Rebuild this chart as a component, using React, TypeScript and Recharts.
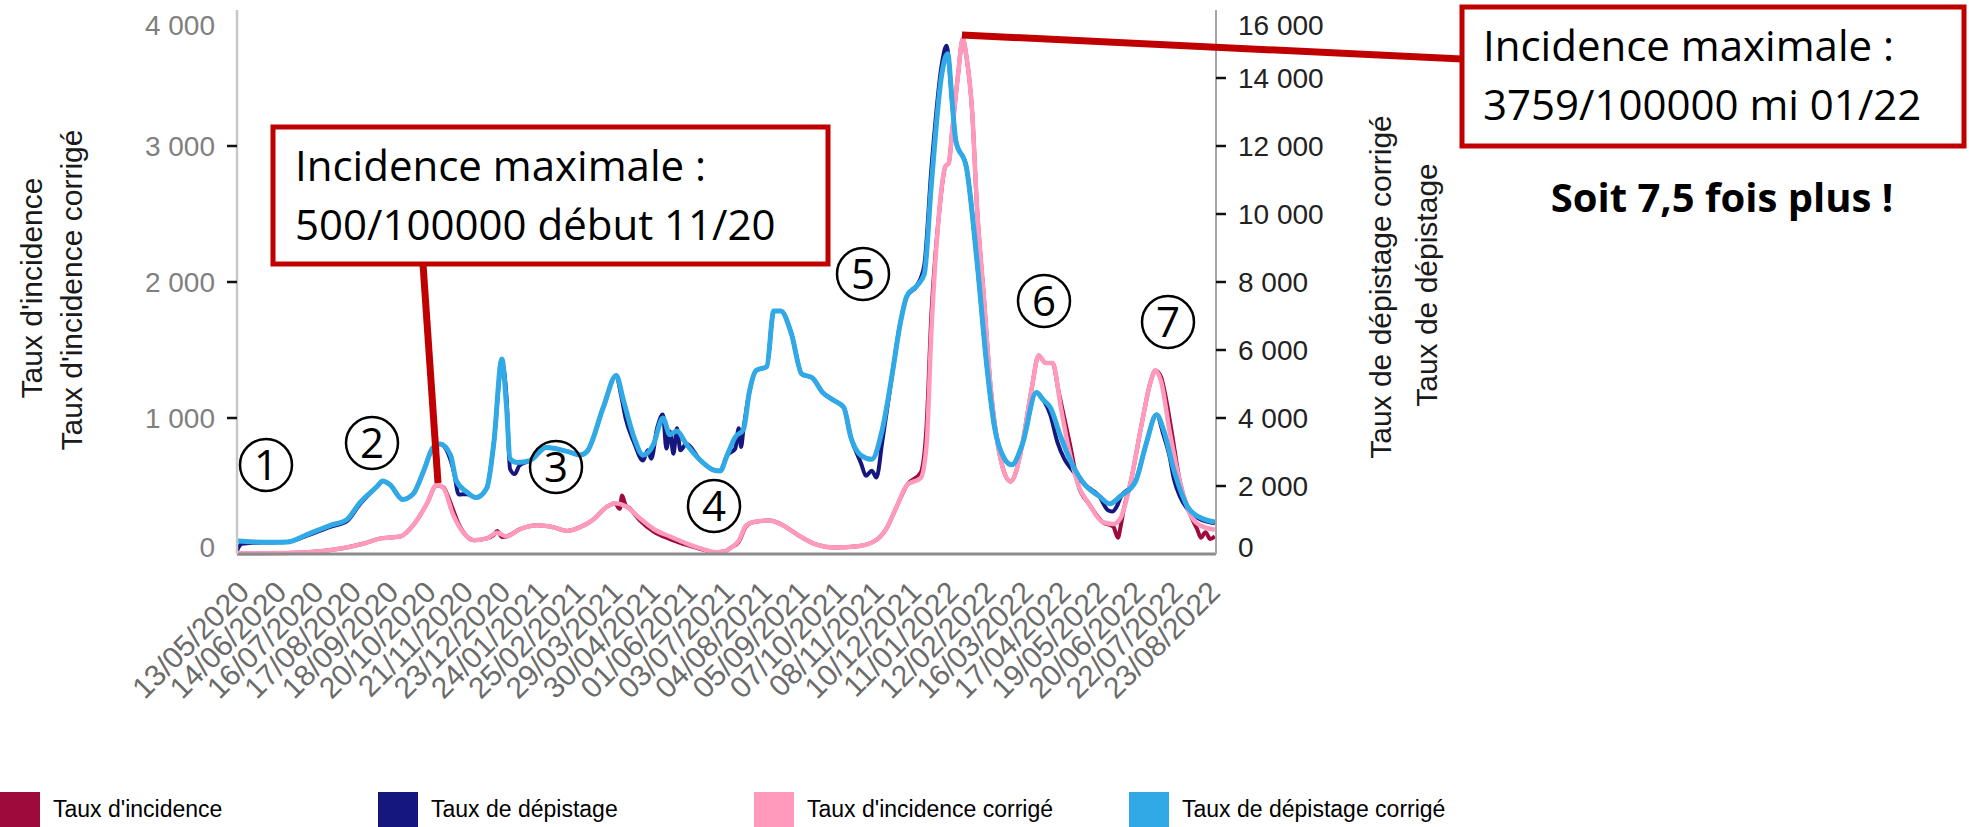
import React from 'react';
import { ComposedChart, Line, XAxis, YAxis } from 'recharts';

// ---------- tick labels ----------
const dateLabels = [
  '13/05/2020', '14/06/2020', '16/07/2020', '17/08/2020', '18/09/2020', '20/10/2020',
  '21/11/2020', '23/12/2020', '24/01/2021', '25/02/2021', '29/03/2021', '30/04/2021',
  '01/06/2021', '03/07/2021', '04/08/2021', '05/09/2021', '07/10/2021', '08/11/2021',
  '10/12/2021', '11/01/2022', '12/02/2022', '16/03/2022', '17/04/2022', '19/05/2022',
  '20/06/2022', '22/07/2022', '23/08/2022',
];
const leftTicks = [0, 1000, 2000, 3000, 4000];
const rightTicks = [0, 2000, 4000, 6000, 8000, 10000, 12000, 14000, 16000];
const xDomain = [0, 839];

// ---------- series (x = days since 13/05/2020) ----------
// Taux de dépistage corrigé (right axis)
const depCorrDays = [0, 14, 30, 43, 60, 80, 94, 105, 120, 125, 131, 142, 151, 160, 168, 174, 183, 188, 197, 205, 214, 220, 227, 231, 234, 240, 251, 265, 283, 294, 300, 314, 325, 331, 340, 348, 357, 365, 371, 377, 385, 397, 408, 414, 420, 427, 434, 439, 445, 454, 460, 466, 475, 484, 493, 502, 511, 520, 526, 535, 544, 553, 562, 568, 574, 583, 589, 595, 604, 609, 613, 616, 625, 634, 643, 649, 658, 664, 673, 685, 691, 697, 706, 715, 727, 739, 748, 757, 770, 779, 788, 794, 803, 815, 824, 838];
const depCorrValues = [380, 353, 345, 353, 571, 844, 1006, 1497, 1985, 2150, 2041, 1606, 1768, 2450, 3129, 3235, 2912, 2150, 1823, 1659, 1932, 3235, 5738, 4323, 2803, 2691, 2747, 3129, 3018, 2912, 3018, 4323, 5250, 4541, 3453, 2912, 3235, 4000, 3509, 3617, 3235, 2760, 2476, 2440, 2900, 3441, 3659, 4747, 5400, 5509, 7144, 7144, 6491, 5294, 5183, 4747, 4529, 4311, 3441, 2894, 2785, 3659, 5400, 6708, 7579, 7906, 8235, 10847, 14117, 14714, 13244, 12155, 11391, 8667, 5400, 3767, 2785, 2623, 3223, 4747, 4529, 4311, 3441, 2691, 2023, 1697, 1479, 1697, 2132, 3223, 4094, 3659, 2459, 1370, 1097, 941];

// Taux de dépistage (right axis)
const depDays = [0, 4, 14, 30, 43, 60, 80, 94, 105, 120, 125, 131, 142, 151, 160, 168, 174, 181, 186, 190, 197, 205, 214, 220, 227, 231, 234, 238, 242, 251, 265, 283, 294, 300, 314, 325, 329, 333, 340, 348, 352, 355, 360, 365, 368, 371, 374, 377, 380, 385, 397, 408, 414, 420, 427, 430, 432, 434, 439, 445, 454, 460, 466, 475, 484, 493, 502, 511, 520, 526, 535, 539, 544, 548, 553, 562, 568, 574, 583, 589, 595, 604, 608, 613, 616, 625, 634, 643, 649, 658, 664, 673, 685, 691, 697, 703, 709, 715, 727, 739, 746, 750, 754, 757, 770, 779, 788, 794, 799, 803, 808, 815, 824, 838];
const depValues = [100, 300, 330, 340, 353, 540, 800, 960, 1450, 1985, 2150, 2041, 1606, 1768, 2450, 3129, 3235, 2950, 2400, 1750, 1760, 1659, 1932, 3235, 5600, 4600, 2500, 2350, 2600, 2747, 3129, 3018, 2912, 3018, 4323, 5250, 4700, 4000, 3300, 2750, 3050, 2800, 3700, 4100, 3100, 3600, 2950, 3700, 3050, 3235, 2760, 2476, 2440, 2900, 3100, 3700, 3150, 3659, 4747, 5400, 5509, 7144, 7144, 6491, 5294, 5183, 4747, 4529, 4311, 3441, 2650, 2300, 2450, 2250, 3300, 5400, 6708, 7579, 7906, 8500, 11300, 14400, 14950, 13244, 12155, 11391, 8667, 5400, 3767, 2785, 2623, 3223, 4747, 4529, 4100, 3300, 2800, 2500, 2023, 1697, 1300, 1250, 1400, 1650, 2132, 3223, 4094, 3500, 2900, 2200, 1700, 1300, 1050, 900];

// Taux d'incidence corrigé (left axis)
const incCorrDays = [0, 43, 71, 94, 108, 123, 140, 151, 163, 171, 177, 185, 194, 203, 214, 223, 231, 243, 257, 271, 283, 294, 305, 317, 324, 334, 345, 357, 371, 386, 400, 410, 418, 424, 430, 436, 442, 457, 466, 481, 496, 511, 532, 547, 556, 565, 574, 586, 591, 595, 601, 607, 610, 613, 618, 622, 625, 630, 634, 640, 646, 652, 658, 663, 667, 673, 681, 687, 693, 699, 706, 712, 721, 730, 742, 751, 757, 766, 775, 783, 787, 792, 799, 808, 817, 826, 838];
const incCorrValues = [5, 7, 20, 48, 75, 115, 129, 211, 374, 510, 483, 293, 157, 102, 115, 157, 129, 184, 211, 197, 170, 197, 251, 347, 374, 347, 265, 184, 129, 75, 34, 12, 20, 50, 98, 207, 234, 247, 220, 138, 70, 48, 57, 98, 179, 342, 506, 560, 806, 1623, 2440, 2848, 2875, 3120, 3529, 3790, 3665, 3257, 2576, 1895, 1214, 806, 588, 533, 588, 806, 1214, 1459, 1404, 1404, 1078, 806, 506, 370, 234, 220, 261, 533, 942, 1268, 1350, 1268, 915, 533, 288, 207, 179];

// Taux d'incidence (left axis)
const incDays = [0, 43, 71, 94, 108, 123, 140, 151, 163, 171, 177, 181, 185, 190, 194, 203, 214, 220, 223, 227, 231, 243, 257, 271, 283, 294, 305, 317, 324, 328, 330, 333, 336, 345, 357, 371, 386, 400, 410, 418, 424, 430, 436, 442, 457, 466, 481, 496, 511, 532, 547, 556, 565, 574, 586, 591, 595, 601, 607, 610, 613, 618, 622, 625, 630, 634, 640, 646, 652, 658, 663, 667, 673, 681, 687, 693, 699, 704, 709, 714, 721, 730, 742, 751, 755, 757, 760, 766, 775, 783, 787, 792, 796, 801, 808, 817, 823, 826, 830, 834, 838];
const incValues = [5, 7, 20, 48, 75, 115, 129, 211, 374, 505, 490, 420, 330, 220, 160, 102, 115, 140, 170, 125, 129, 184, 211, 197, 170, 197, 251, 347, 374, 330, 430, 360, 340, 250, 165, 110, 65, 30, 12, 20, 50, 90, 200, 234, 247, 220, 138, 70, 48, 57, 98, 179, 342, 506, 600, 950, 1750, 2440, 2848, 2875, 3120, 3529, 3790, 3665, 3257, 2576, 1895, 1214, 806, 588, 533, 588, 806, 1214, 1459, 1404, 1404, 1200, 1000, 800, 506, 370, 234, 200, 120, 190, 330, 533, 942, 1268, 1350, 1300, 1150, 900, 533, 288, 180, 120, 160, 110, 130];

// ---------- helpers ----------
const zip = (days: number[], values: number[]) => days.map((d, i) => ({ day: d, v: values[i] }));
const incData = zip(incDays, incValues);
const depData = zip(depDays, depValues);
const incCorrData = zip(incCorrDays, incCorrValues);
const depCorrData = zip(depCorrDays, depCorrValues);

const dayOf = (label: string) => {
  const [d, m, y] = label.split('/').map(Number);
  return Math.round((Date.UTC(y, m - 1, d) - Date.UTC(2020, 4, 13)) / 86400000);
};
const xTicks = dateLabels.map(dayOf);
const labelOf = (day: number) => dateLabels[xTicks.indexOf(day)] ?? '';
const fmt = (v: number) => String(v).replace(/\B(?=(\d{3})+(?!\d))/g, '\u00a0');

const FONT = '"Liberation Sans", Arial, sans-serif';
const CAL = '"Open Sans", Lato, sans-serif';
const RED = '#C00000';

const COLORS = {
  inc: '#9E0A3C',
  dep: '#16167F',
  incCorr: '#FF9ABD',
  depCorr: '#31A9E6',
};

const LeftTick = (props: any) => {
  const { x, y, payload, index } = props;
  const isEnd = index === 0 || index === leftTicks.length - 1;
  const ty = Math.min(Math.max(y, 25), 547);
  return (
    <g>
      {!isEnd && <line x1={x + 12} x2={x + 22} y1={y} y2={y} stroke="#111" strokeWidth={2.5} />}
      <text x={x} y={ty} textAnchor="end" dominantBaseline="central" fontSize={28} fill="#7f7f7f" fontFamily={FONT}>
        {fmt(payload.value)}
      </text>
    </g>
  );
};

const RightTick = (props: any) => {
  const { x, y, payload, index } = props;
  const isEnd = index === 0 || index === rightTicks.length - 1;
  const ty = Math.min(Math.max(y, 25), 547);
  return (
    <g>
      {!isEnd && <line x1={x - 22} x2={x - 12} y1={y} y2={y} stroke="#111" strokeWidth={2.5} />}
      <text x={x} y={ty} textAnchor="start" dominantBaseline="central" fontSize={28} fill="#222" fontFamily={FONT}>
        {fmt(payload.value)}
      </text>
    </g>
  );
};

const BottomTick = (props: any) => {
  const { x, y, payload } = props;
  const ax = x + 14;
  const ay = y + 40;
  return (
    <text x={ax} y={ay} transform={`rotate(-45 ${ax} ${ay})`} textAnchor="end" fontSize={30} fill="#6b6b6b" fontFamily={FONT}>
      {labelOf(payload.value)}
    </text>
  );
};

const circles = [
  { n: '1', cx: 266, cy: 465 },
  { n: '2', cx: 372, cy: 443 },
  { n: '3', cx: 556, cy: 467 },
  { n: '4', cx: 714, cy: 506 },
  { n: '5', cx: 863, cy: 274 },
  { n: '6', cx: 1044, cy: 301 },
  { n: '7', cx: 1168, cy: 322 },
];

const legendItems = [
  { label: "Taux d'incidence", color: COLORS.inc, x: 0 },
  { label: 'Taux de dépistage', color: COLORS.dep, x: 378 },
  { label: "Taux d'incidence corrigé", color: COLORS.incCorr, x: 754 },
  { label: 'Taux de dépistage corrigé', color: COLORS.depCorr, x: 1129 },
];

export default function App() {
  return (
    <div style={{ position: 'absolute', left: 0, top: 0, width: 1969, height: 827, background: '#fff', overflow: 'hidden' }}>
      <ComposedChart width={1969} height={827} margin={{ top: 10, right: 603, bottom: 73, left: 107 }}>
        <XAxis
          type="number"
          dataKey="day"
          domain={xDomain}
          ticks={xTicks}
          interval={0}
          allowDataOverflow
          height={200}
          tickSize={0}
          tickMargin={0}
          tickLine={false}
          axisLine={{ stroke: '#8c8c8c', strokeWidth: 3 }}
          tick={<BottomTick />}
        />
        <YAxis
          yAxisId="left"
          orientation="left"
          domain={[0, 4000]}
          ticks={leftTicks}
          interval={0}
          width={130}
          tickSize={10}
          tickMargin={12}
          tickLine={false}
          axisLine={{ stroke: '#c8c8c8', strokeWidth: 2.5 }}
          tick={<LeftTick />}
        />
        <YAxis
          yAxisId="right"
          orientation="right"
          domain={[0, 16000]}
          ticks={rightTicks}
          interval={0}
          width={150}
          tickSize={10}
          tickMargin={12}
          tickLine={false}
          axisLine={{ stroke: '#a6a6a6', strokeWidth: 2 }}
          tick={<RightTick />}
        />
        <Line yAxisId="left" data={incData} dataKey="v" type="monotone" stroke={COLORS.inc} strokeWidth={4} dot={false} isAnimationActive={false} />
        <Line yAxisId="right" data={depData} dataKey="v" type="monotone" stroke={COLORS.dep} strokeWidth={4} dot={false} isAnimationActive={false} />
        <Line yAxisId="left" data={incCorrData} dataKey="v" type="monotone" stroke={COLORS.incCorr} strokeWidth={4.5} dot={false} isAnimationActive={false} />
        <Line yAxisId="right" data={depCorrData} dataKey="v" type="monotone" stroke={COLORS.depCorr} strokeWidth={5} dot={false} isAnimationActive={false} />
      </ComposedChart>

      <svg width={1969} height={827} style={{ position: 'absolute', left: 0, top: 0, pointerEvents: 'none' }}>
        {/* axis titles */}
        <text x={31} y={288} transform="rotate(-90 31 288)" textAnchor="middle" dominantBaseline="central" fontSize={30} fill="#1a1a1a" fontFamily={FONT}>Taux d'incidence</text>
        <text x={71} y={290} transform="rotate(-90 71 290)" textAnchor="middle" dominantBaseline="central" fontSize={30} fill="#1a1a1a" fontFamily={FONT}>Taux d'incidence corrigé</text>
        <text x={1380} y={287} transform="rotate(-90 1380 287)" textAnchor="middle" dominantBaseline="central" fontSize={30} fill="#1a1a1a" fontFamily={FONT}>Taux de dépistage corrigé</text>
        <text x={1426} y={285} transform="rotate(-90 1426 285)" textAnchor="middle" dominantBaseline="central" fontSize={30} fill="#1a1a1a" fontFamily={FONT}>Taux de dépistage</text>

        {/* circled wave numbers */}
        {circles.map((c) => (
          <g key={c.n}>
            <circle cx={c.cx} cy={c.cy} r={26} fill="none" stroke="#000" strokeWidth={2.5} />
            <text x={c.cx} y={c.cy + 15} textAnchor="middle" fontSize={42} fill="#000" fontFamily={CAL}>{c.n}</text>
          </g>
        ))}

        {/* annotation 1 */}
        <line x1={423} y1={264} x2={438} y2={483} stroke={RED} strokeWidth={7} />
        <rect x={273} y={127} width={555} height={137} fill="#fff" stroke={RED} strokeWidth={5} />
        <text x={295} y={181} fontSize={42} fill="#000" fontFamily={CAL}>Incidence maximale :</text>
        <text x={295} y={240} fontSize={42} fill="#000" fontFamily={CAL}>500/100000 début 11/20</text>

        {/* annotation 2 */}
        <line x1={962} y1={35} x2={1462} y2={59} stroke={RED} strokeWidth={7} />
        <rect x={1462} y={7} width={502} height={139} fill="#fff" stroke={RED} strokeWidth={5} />
        <text x={1483} y={61} fontSize={42} fill="#000" fontFamily={CAL}>Incidence maximale :</text>
        <text x={1483} y={120} fontSize={42} fill="#000" fontFamily={CAL}>3759/100000 mi 01/22</text>
        <text x={1722} y={212} textAnchor="middle" fontSize={40} fontWeight="bold" fill="#000" fontFamily={CAL}>Soit 7,5 fois plus !</text>
      </svg>

      {legendItems.map((it) => (
        <div key={it.label} style={{ position: 'absolute', left: it.x, top: 792, height: 35, display: 'flex', alignItems: 'center' }}>
          <div style={{ width: 40, height: 35, background: it.color }} />
          <span style={{ marginLeft: 13, fontFamily: FONT, fontSize: 23, color: '#000', whiteSpace: 'nowrap' }}>{it.label}</span>
        </div>
      ))}
    </div>
  );
}
